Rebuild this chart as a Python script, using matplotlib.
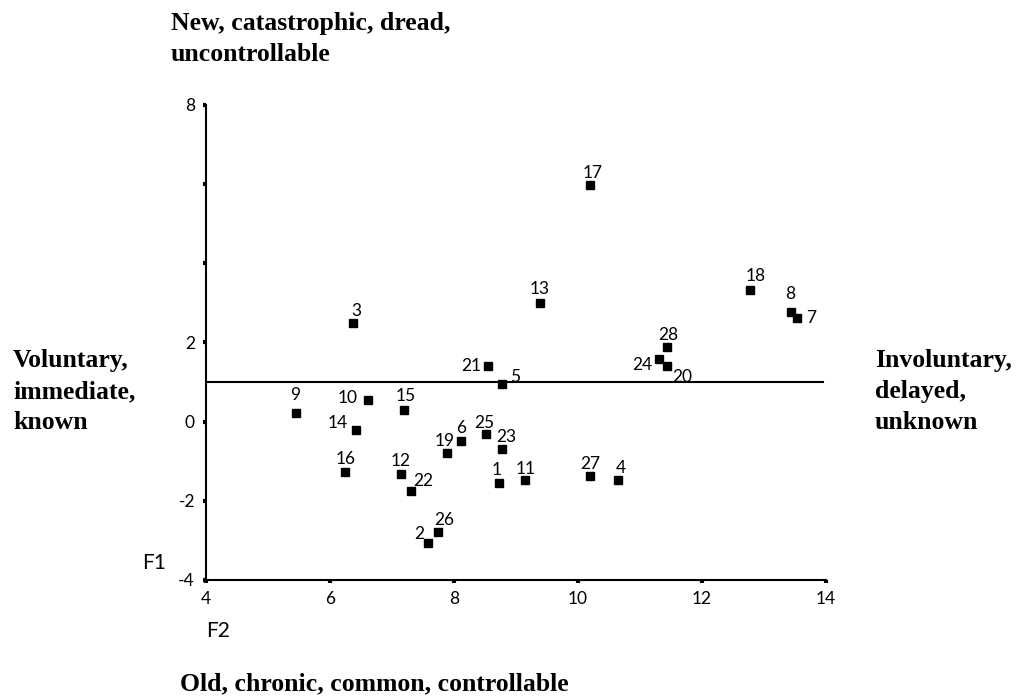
import matplotlib
matplotlib.use("Agg")
from matplotlib import pyplot as plt

# hazard number, F2 (x) and F1 (y) scores
hazards = [1, 2, 3, 4, 5, 6, 7, 8, 9, 10, 11, 12, 13, 14,
           15, 16, 17, 18, 19, 20, 21, 22, 23, 24, 25, 26, 27, 28]
f2 = [8.72, 7.58, 6.37, 10.65, 8.77, 8.11, 13.54, 13.43, 5.45, 6.61,
      9.15, 7.15, 9.38, 6.42, 7.20, 6.24, 10.19, 12.78, 7.89, 11.43,
      8.54, 7.30, 8.77, 11.31, 8.52, 7.74, 10.19, 11.43]
f1 = [-1.56, -3.07, 2.48, -1.47, 0.94, -0.49, 2.61, 2.78, 0.22, 0.55,
      -1.48, -1.32, 3.00, -0.21, 0.30, -1.28, 5.98, 3.32, -0.80, 1.41,
      1.41, -1.75, -0.68, 1.58, -0.30, -2.79, -1.37, 1.89]

# where each number sits relative to its marker (pixels, y up)
label_dx = [-2, -9, 3, 3, 13, 0, 14, 0, -1, -20, 0, -1, 0, -18,
            1, 1, 3, 5, -3, 16, -16, 13, 5, -17, -2, 6, 0, 2]
label_dy = [13, 9, 12, 12, 7, 13, 0, 18, 18, 2, 11, 13, 14, 7,
            14, 13, 12, 14, 12, -11, 0, 10, 12, -6, 11, 12, 12, 12]

divider_y = 1.0

fig = plt.figure(figsize=(10.18, 6.97), dpi=100)
ax = fig.add_axes([0.2024, 0.1679, 0.609, 0.6815])

ax.plot(f2, f1, ls="none", marker="s", ms=6, color="black")
for h, x, y, dx, dy in zip(hazards, f2, f1, label_dx, label_dy):
    ax.annotate(str(h), (x, y), xytext=(dx, dy), textcoords="offset pixels",
                ha="center", va="center", fontsize=12.5, family="Lato")

ax.plot([4, 13.95], [divider_y, divider_y], color="black", lw=1.5)

ax.set_xlim(4, 14)
ax.set_ylim(-4, 8)
ax.set_xticks([4, 6, 8, 10, 12, 14])
ax.set_yticks([-4, -2, 0, 2, 4, 6, 8])
ax.set_yticklabels(["-4", "-2", "0", "2", "", "", "8"])
for lab in ax.get_xticklabels() + ax.get_yticklabels():
    lab.set_family("Lato")
    lab.set_fontsize(12.5)
ax.tick_params(direction="out", length=2, width=3, color="black", pad=6)

for side in ["top", "right"]:
    ax.spines[side].set_visible(False)
for side in ["left", "bottom"]:
    ax.spines[side].set_linewidth(1.5)

serif = dict(family="Liberation Serif", fontweight="bold", fontsize=18.5,
             linespacing=1.45, va="top", ha="left")
fig.text(171 / 1018, 1 - 12 / 697, "New, catastrophic, dread,\nuncontrollable", **serif)
fig.text(13 / 1018, 1 - 349 / 697, "Voluntary,\nimmediate,\nknown", **serif)
fig.text(875 / 1018, 1 - 349 / 697, "Involuntary,\ndelayed,\nunknown", **serif)
fig.text(180 / 1018, 1 - 672 / 697, "Old, chronic, common, controllable", **serif)

fig.text(142 / 1018, 1 - 563 / 697, "F1", family="Lato", fontsize=15, va="center")
fig.text(206 / 1018, 1 - 631 / 697, "F2", family="Lato", fontsize=15, va="center")

fig.savefig("out.png", dpi=100)
